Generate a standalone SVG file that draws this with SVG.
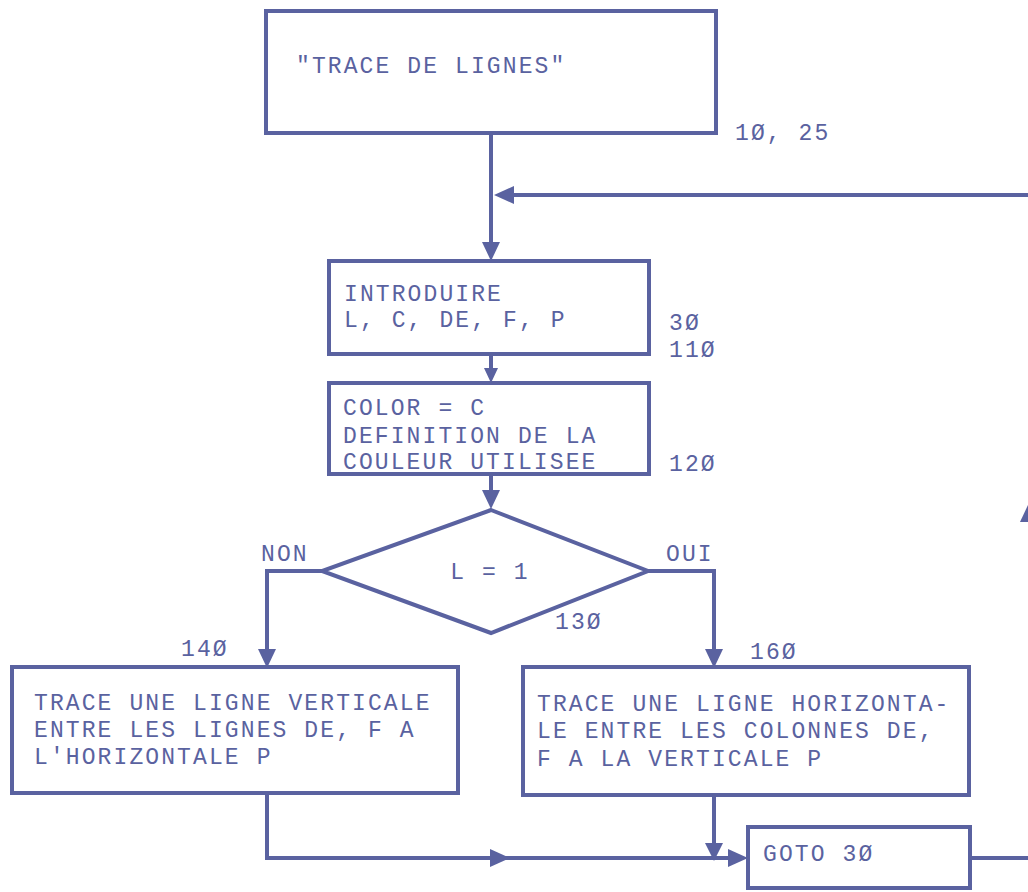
<svg xmlns="http://www.w3.org/2000/svg" width="1028" height="892" viewBox="0 0 1028 892">
<defs>
<style>
.b{fill:none;stroke:#5a62a0;stroke-width:4}
.l{fill:none;stroke:#5a62a0;stroke-width:4}
.t{font-family:"Liberation Mono","Courier New",monospace;font-size:23px;letter-spacing:2.1px;fill:#5a62a0}
.a{fill:#5a62a0}
</style>
</defs>
<rect width="1028" height="892" fill="#ffffff"/>
<g id="connectors">
<path class="l" d="M491 133 V245"/>
<polygon class="a" points="482,242 500,242 491,261"/>
<path class="l" d="M1028 195 H510"/>
<polygon class="a" points="514,186 514,204 494,195"/>
<path class="l" d="M491 354 V370"/>
<polygon class="a" points="484,368 498,368 491,383"/>
<path class="l" d="M491 474 V495"/>
<polygon class="a" points="482,490 500,490 491,509"/>
<path class="l" d="M322 571 H267 V652"/>
<polygon class="a" points="258,649 276,649 267,668"/>
<path class="l" d="M648 571 H714 V652"/>
<polygon class="a" points="705,649 723,649 714,668"/>
<path class="l" d="M267 793 V858 H732"/>
<polygon class="a" points="490,849 490,867 510,858"/>
<polygon class="a" points="728,849 728,867 748,858"/>
<path class="l" d="M714 795 V845"/>
<polygon class="a" points="705,843 723,843 714,861"/>
<path class="l" d="M970 858 H1028"/>
<polygon class="a" points="1020,522 1028,505 1028,522"/>
</g>
<g id="start">
<rect class="b" x="266" y="11" width="450" height="122"/>
<text class="t" x="296" y="73">"TRACE DE LIGNES"</text>
<text class="t" x="735" y="140">1Ø, 25</text>
</g>
<g id="input">
<rect class="b" x="329" y="261" width="320" height="93"/>
<text class="t" x="344" y="301">INTRODUIRE</text>
<text class="t" x="344" y="327">L, C, DE, F, P</text>
<text class="t" x="669" y="330">3Ø</text>
<text class="t" x="669" y="357">11Ø</text>
</g>
<g id="color">
<rect class="b" x="329" y="383" width="320" height="91"/>
<text class="t" x="343" y="415">COLOR = C</text>
<text class="t" x="343" y="443">DEFINITION DE LA</text>
<text class="t" x="343" y="469">COULEUR UTILISEE</text>
<text class="t" x="669" y="471">12Ø</text>
</g>
<g id="decision">
<polygon class="b" points="491,510 648,571 491,633 322,571"/>
<text class="t" x="490" y="579" text-anchor="middle">L = 1</text>
<text class="t" x="261" y="561">NON</text>
<text class="t" x="666" y="561">OUI</text>
<text class="t" x="555" y="629">13Ø</text>
</g>
<g id="vertical">
<rect class="b" x="12" y="667" width="446" height="126"/>
<text class="t" x="34" y="710">TRACE UNE LIGNE VERTICALE</text>
<text class="t" x="34" y="737">ENTRE LES LIGNES DE, F A</text>
<text class="t" x="34" y="764">L'HORIZONTALE P</text>
<text class="t" x="181" y="656">14Ø</text>
</g>
<g id="horizontal">
<rect class="b" x="523" y="667" width="446" height="128"/>
<text class="t" x="537" y="711">TRACE UNE LIGNE HORIZONTA-</text>
<text class="t" x="537" y="738">LE ENTRE LES COLONNES DE,</text>
<text class="t" x="537" y="766">F A LA VERTICALE P</text>
<text class="t" x="750" y="659">16Ø</text>
</g>
<g id="goto">
<rect class="b" x="748" y="827" width="222" height="61"/>
<text class="t" x="763" y="861">GOTO 3Ø</text>
</g>
</svg>
